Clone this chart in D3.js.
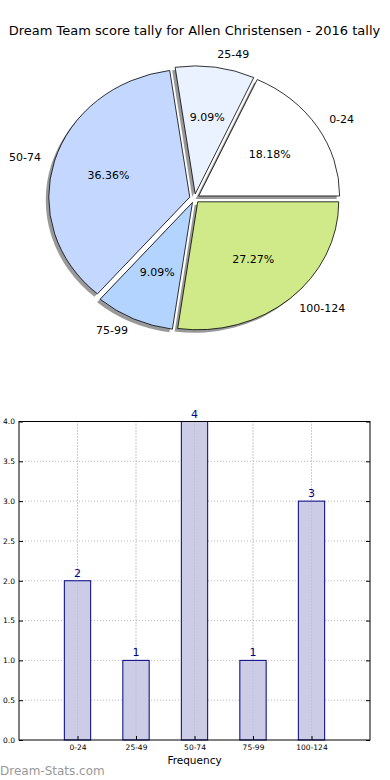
<!DOCTYPE html>
<html><head><meta charset="utf-8">
<script src="https://cdn.jsdelivr.net/npm/d3@7"></script>
<style>body{margin:0;background:#fff}svg{display:block}text{font-family:"DejaVu Sans",sans-serif}</style>
</head><body>
<svg id="c" width="390" height="780"></svg>
<script>
const categories = ["0-24","25-49","50-74","75-99","100-124"];
const counts = [2,1,4,1,3];
const pieColors = ["#ffffff","#eaf1ff","#c4d8ff","#b3d4ff","#d0ea8a"];
const yTicks = [0,0.5,1,1.5,2,2.5,3,3.5,4];
const titleText = "Dream Team score tally for Allen Christensen - 2016 tally";

const svg = d3.select("#c");
svg.append("text").attr("x",194.5).attr("y",35).attr("text-anchor","middle")
  .attr("font-size",13).attr("fill","#000").text(titleText);

// ---- Pie (elliptical, matplotlib-style) ----
const cx=194.5, cy=198.4, rx=141, ry=128, expl=0.035;
const total = d3.sum(counts);
const pie = d3.pie().sort(null).startAngle(Math.PI/2).endAngle(Math.PI/2-2*Math.PI);
const arcs = pie(counts);
const arc = d3.arc().innerRadius(0).outerRadius(ry);
const sx = rx/ry;
const pg = svg.append("g");
arcs.forEach((a,i)=>{
  const m=(a.startAngle+a.endAngle)/2;
  const ox=cx+expl*rx*Math.sin(m), oy=cy-expl*ry*Math.cos(m);
  pg.append("path").attr("d",arc(a))
    .attr("transform",`translate(${ox-3},${oy+3}) scale(${sx},1)`)
    .attr("fill","#555").attr("opacity",0.6);
});
arcs.forEach((a,i)=>{
  const m=(a.startAngle+a.endAngle)/2;
  const ox=cx+expl*rx*Math.sin(m), oy=cy-expl*ry*Math.cos(m);
  pg.append("path").attr("d",arc(a))
    .attr("transform",`translate(${ox},${oy}) scale(${sx},1)`)
    .attr("fill",pieColors[i]).attr("stroke","#000").attr("stroke-width",0.8)
    .attr("vector-effect","non-scaling-stroke");
});
arcs.forEach((a,i)=>{
  const m=(a.startAngle+a.endAngle)/2;
  const ox=cx+expl*rx*Math.sin(m), oy=cy-expl*ry*Math.cos(m);
  const s=Math.sin(m), c=Math.cos(m);
  pg.append("text").attr("x",ox+0.6*rx*s).attr("y",oy-0.6*ry*c)
    .attr("text-anchor","middle").attr("dominant-baseline","central")
    .attr("font-size",11).text((counts[i]/total*100).toFixed(2)+"%");
  pg.append("text").attr("x",ox+1.1*rx*s).attr("y",oy-1.1*ry*c)
    .attr("text-anchor",s>0?"start":"end").attr("dominant-baseline","central")
    .attr("font-size",11).text(categories[i]);
});

// ---- Bar chart ----
const L=19,R=370,T=421.5,B=740;
const x=d3.scaleLinear().domain([0,6]).range([L,R]);
const y=d3.scaleLinear().domain([0,4]).range([B,T]);
const bg=svg.append("g");
bg.selectAll(".hg").data(yTicks.slice(1,-1)).join("line")
  .attr("x1",L).attr("x2",R).attr("y1",d=>y(d)).attr("y2",d=>y(d))
  .attr("stroke","#bbb").attr("stroke-width",1).attr("stroke-dasharray","1,2");
bg.selectAll(".vg").data(categories).join("line")
  .attr("x1",(d,i)=>x(i+1)).attr("x2",(d,i)=>x(i+1)).attr("y1",T).attr("y2",B)
  .attr("stroke","#bbb").attr("stroke-width",1).attr("stroke-dasharray","1,2");
const bw=x(0.45)-x(0);
bg.selectAll(".bar").data(counts).join("rect")
  .attr("x",(d,i)=>x(i+1)-bw/2).attr("width",bw)
  .attr("y",d=>y(d)).attr("height",d=>y(0)-y(d))
  .attr("fill","#cccce6").attr("stroke","#000080").attr("stroke-width",1);
bg.selectAll(".vg2").data(categories).join("line")
  .attr("x1",(d,i)=>x(i+1)).attr("x2",(d,i)=>x(i+1)).attr("y1",T).attr("y2",B)
  .attr("stroke","#aaa").attr("stroke-opacity",0.6).attr("stroke-width",1).attr("stroke-dasharray","1,2");
bg.selectAll(".vl").data(counts).join("text")
  .attr("x",(d,i)=>x(i+1)).attr("y",d=>y(d)-4).attr("text-anchor","middle")
  .attr("font-size",11).attr("fill","#00008b").text(d=>d);
bg.append("rect").attr("x",L).attr("y",T).attr("width",R-L).attr("height",B-T)
  .attr("fill","none").attr("stroke","#000").attr("stroke-width",1);
const yAxisL=d3.axisLeft(y).tickValues(yTicks).tickFormat(d3.format(".1f")).tickSizeInner(-4).tickSizeOuter(0).tickPadding(4);
const ga=bg.append("g").attr("transform",`translate(${L},0)`).call(yAxisL);
ga.select(".domain").remove();
ga.selectAll("text").attr("font-size",7.5).attr("font-family","DejaVu Sans").attr("fill","#000");
const yAxisR=d3.axisRight(y).tickValues(yTicks).tickFormat("").tickSizeInner(-4).tickSizeOuter(0);
const gr=bg.append("g").attr("transform",`translate(${R},0)`).call(yAxisR);
gr.select(".domain").remove();
const xAxis=d3.axisBottom(x).tickValues([1,2,3,4,5]).tickFormat((d)=>categories[d-1]).tickSizeInner(-4).tickSizeOuter(0).tickPadding(5);
const gx=bg.append("g").attr("transform",`translate(0,${B})`).call(xAxis);
gx.select(".domain").remove();
gx.selectAll("text").attr("font-size",7.5).attr("font-family","DejaVu Sans").attr("fill","#000");
bg.append("text").attr("x",194.5).attr("y",764).attr("text-anchor","middle")
  .attr("font-size",10.5).text("Frequency");
svg.append("text").attr("x",0).attr("y",775).attr("font-size",12)
  .attr("fill","#999").attr("font-family","DejaVu Sans").text("Dream-Stats.com");
</script>
</body></html>
